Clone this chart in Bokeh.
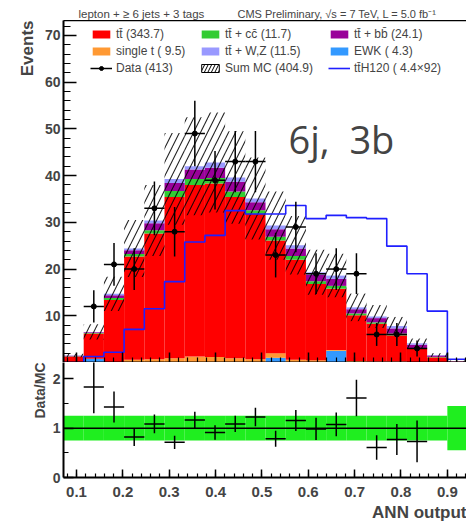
import numpy as np
from bokeh.plotting import figure
from bokeh.layouts import column
from bokeh.models import (Range1d, FixedTicker, LinearAxis, Label, Legend,
                          LegendItem, Span, ColumnDataSource, Title)
from bokeh.embed import file_html
from bokeh.resources import INLINE

# ---------------- data ----------------
x_lo, bin_w, n_bins = 0.072, 0.04358, 20
data_counts = [0, 12, 21, 20, 33, 28, 49, 39, 43, 43, 23, 29, 19, 20, 19, 6, 6, 3, 0, 0]
ewk      = [0, 0.8, 0, 0, 0, 0, 0, 0, 0, 0, 1.0, 0, 0, 2.5, 0, 0, 0, 0, 0, 0]
single_t = [0, 0, 0.1, 0.6, 0.7, 0.9, 1.3, 1.2, 0.9, 0.7, 1.0, 0.6, 0.5, 0.2, 0.3, 0.2, 0.2, 0.1, 0, 0]
ttbar    = [1.3, 5.4, 13.3, 22.1, 26.9, 34.5, 36.7, 37.1, 34.5, 31.1, 24.1, 21.4, 16.3, 13.1, 9.8, 8.1, 5.6, 2.8, 1.1, 0.2]
ttcc     = [0.05, 0.1, 0.4, 0.5, 0.7, 1.3, 1.3, 1.2, 1.2, 0.8, 0.8, 0.8, 0.6, 0.6, 0.4, 0.3, 0.4, 0.2, 0.1, 0.0]
ttbb     = [0.1, 0.15, 0.6, 0.8, 1.5, 1.7, 2.0, 2.2, 2.1, 1.7, 1.6, 1.6, 1.4, 1.5, 0.9, 0.9, 1.1, 0.7, 0.3, 0.05]
ttwz     = [0.05, 0.1, 0.3, 0.4, 0.6, 0.9, 0.7, 1.1, 0.9, 0.8, 0.8, 0.7, 0.5, 0.7, 0.4, 0.35, 0.5, 0.3, 0.1, 0.05]
tth_scaled = [0, 1.3, 2.2, 7.1, 11.5, 17.3, 25.8, 27.2, 32.5, 31.8, 31.8, 33.6, 30.8, 31.5, 31.0, 30.8, 24.9, 19.0, 11.0, 0.7]
mc_rel_unc = [0.25, 0.25, 0.25, 0.25, 0.25, 0.25, 0.25, 0.25, 0.25, 0.25,
              0.25, 0.25, 0.25, 0.25, 0.25, 0.25, 0.25, 0.25, 0.25, 0.45]

legend_labels = ["tt\u0304 (343.7)", "tt\u0304 + cc\u0304 (11.7)", "tt\u0304 + bb\u0304 (24.1)",
                 "single t ( 9.5)", "tt\u0304 + W,Z (11.5)", "EWK ( 4.3)",
                 "Data (413)", "Sum MC (404.9)", "tt\u0304H120 ( 4.4\u00d792)"]
x_ticks = [0.1, 0.2, 0.3, 0.4, 0.5, 0.6, 0.7, 0.8, 0.9]
y_ticks_top = [10, 20, 30, 40, 50, 60, 70]
y_ticks_ratio = [0, 1, 2]

# ---------------- derived ----------------
edges = x_lo + bin_w * np.arange(n_bins + 1)
left, right = edges[:-1], edges[1:]
centers = 0.5 * (left + right)
comps = [("ewk", ewk, "#3399ff"), ("st", single_t, "#ff9933"), ("tt", ttbar, "#ff0000"),
         ("cc", ttcc, "#33cc33"), ("bb", ttbb, "#990099"), ("wz", ttwz, "#9999ff")]
total = np.sum([np.array(c[1]) for c in comps], axis=0)
unc = np.array(mc_rel_unc)
d = np.array(data_counts, dtype=float)

FONT = "Liberation Sans"
XR = Range1d(0.072, 0.9413)

# ---------------- header strip (x in page pixels) ----------------
p0 = figure(width=466, height=20, x_range=Range1d(63, 466), y_range=Range1d(20, 0),
            output_backend="svg", toolbar_location=None, min_border=0, min_border_left=63)
p0.axis.visible = False
p0.grid.visible = False
p0.outline_line_color = None
p0.add_layout(Label(x=78, y=13, text="lepton + \u2265 6 jets + 3 tags", text_font=FONT,
                    text_font_size="11.5px", text_baseline="middle", text_align="left"))
p0.add_layout(Label(x=237, y=13, text="CMS Preliminary, \u221As = 7 TeV, L = 5.0 fb\u207B\u00B9",
                    text_font=FONT, text_font_size="11px", text_baseline="middle", text_align="left"))

# ---------------- upper panel ----------------
p1 = figure(width=466, height=342, x_range=XR, y_range=Range1d(0, 73.2),
            output_backend="svg", toolbar_location=None,
            min_border_left=63, min_border_right=0, min_border_top=0, min_border_bottom=0)
p1.outline_line_color = None
p1.grid.visible = False

renderers = {}
base = np.zeros(n_bins)
for key, vals, col in comps:
    top = base + np.array(vals)
    renderers[key] = p1.quad(left=left, right=right, bottom=base, top=top,
                             fill_color=col, line_color=None)
    base = top

band = p1.quad(left=left, right=right, bottom=total * (1 - unc), top=total * (1 + unc),
               fill_alpha=0, line_color=None, hatch_pattern="/", hatch_color="black",
               hatch_scale=14, hatch_weight=1.1, hatch_alpha=0.85)
# legend proxy for the hatched band (zero-size box at the range start)
band_leg = p1.quad(left=[x_lo], right=[x_lo], bottom=[0], top=[0], fill_alpha=0,
                   line_color="black", line_width=1, hatch_pattern="/", hatch_color="black",
                   hatch_scale=7, hatch_weight=1)

sx, sy = [], []
for i in range(n_bins):
    sx += [left[i], right[i]]
    sy += [tth_scaled[i], tth_scaled[i]]
tth_r = p1.line(sx, sy, line_color="#1f1fff", line_width=1.6)

m = d > 0
err = np.sqrt(d[m])
dat_src = ColumnDataSource(dict(x=centers[m], y=d[m], lo=d[m] - err, hi=d[m] + err,
                                l=left[m], r=right[m]))
v1 = p1.segment(x0="x", y0="lo", x1="x", y1="hi", source=dat_src, line_color="black", line_width=1.5)
h1 = p1.segment(x0="l", y0="y", x1="r", y1="y", source=dat_src, line_color="black", line_width=1.5)
c1 = p1.scatter(x="x", y="y", source=dat_src, size=5, color="black")

cols = [
    [(legend_labels[0], [renderers["tt"]]), (legend_labels[3], [renderers["st"]]),
     (legend_labels[6], [h1, c1])],
    [(legend_labels[1], [renderers["cc"]]), (legend_labels[4], [renderers["wz"]]),
     (legend_labels[7], [band_leg])],
    [(legend_labels[2], [renderers["bb"]]), (legend_labels[5], [renderers["ewk"]]),
     (legend_labels[8], [tth_r])],
]
col_x = [27, 136, 265]
for cx, entries in zip(col_x, cols):
    leg = Legend(items=[LegendItem(label=t, renderers=r) for t, r in entries],
                 location=(cx, 287), glyph_width=22, glyph_height=10, label_height=12,
                 label_standoff=4, spacing=3, padding=0, margin=0, label_text_font=FONT,
                 label_text_font_size="12px", background_fill_alpha=0, border_line_alpha=0)
    p1.add_layout(leg)

# axes
ya = p1.yaxis[0]
ya.ticker = FixedTicker(ticks=y_ticks_top, minor_ticks=list(range(2, 73, 2)))
xa = p1.xaxis[0]
xa.ticker = FixedTicker(ticks=x_ticks, minor_ticks=list(np.round(np.arange(0.08, 0.95, 0.02), 2)))
xa.major_label_overrides = {t: "" for t in x_ticks}
xa.major_label_text_font_size = "1px"
xa.major_label_standoff = 0
for ax in (ya, xa):
    ax.axis_line_width = 2
    ax.major_tick_line_width = 1.5
    ax.minor_tick_line_width = 1.2
    ax.major_tick_out = 0
    ax.minor_tick_out = 0
    ax.major_label_text_font = FONT
    ax.major_label_text_font_style = "bold"
ya.major_tick_in = 13
ya.minor_tick_in = 7
ya.major_label_text_font_size = "14px"
ya.major_label_standoff = 3
xa.major_tick_in = 10
xa.minor_tick_in = 5

top_axis = LinearAxis(ticker=FixedTicker(ticks=[]), major_tick_in=0, major_tick_out=0,
                      minor_tick_in=0, minor_tick_out=0, major_label_text_font_size="1px",
                      major_label_standoff=0, axis_line_width=1.5)
p1.add_layout(top_axis, "above")

p1.add_layout(Label(x=0.5573, y=47.9, text="6j, \u00a03b", text_font="Open Sans",
                    text_font_size="38px", text_baseline="alphabetic", text_align="left"))
p1.add_layout(Title(text="Events", align="right", text_font=FONT, text_font_style="bold",
                    text_font_size="17px", standoff=9), "left")

# ---------------- ratio panel ----------------
p2 = figure(width=466, height=161, x_range=XR, y_range=Range1d(0, 2.33),
            output_backend="svg", toolbar_location=None,
            min_border_left=63, min_border_right=0, min_border_top=0, min_border_bottom=46)
p2.outline_line_color = None
p2.grid.visible = False

p2.quad(left=left, right=right, bottom=1 - unc, top=1 + unc, fill_color="#1fee1f", line_color=None)
p2.add_layout(Span(location=1, dimension="width", line_color="black", line_width=1.5))
r = d[m] / total[m]
rerr = np.sqrt(d[m]) / total[m]
rat_src = ColumnDataSource(dict(x=centers[m], y=r, lo=r - rerr, hi=r + rerr, l=left[m], r=right[m]))
p2.segment(x0="x", y0="lo", x1="x", y1="hi", source=rat_src, line_color="black", line_width=1.5)
p2.segment(x0="l", y0="y", x1="r", y1="y", source=rat_src, line_color="black", line_width=1.5)

ya2 = p2.yaxis[0]
ya2.ticker = FixedTicker(ticks=y_ticks_ratio, minor_ticks=[0.5, 1.5])
xa2 = p2.xaxis[0]
xa2.ticker = FixedTicker(ticks=x_ticks, minor_ticks=list(np.round(np.arange(0.08, 0.95, 0.02), 2)))
for ax in (ya2, xa2):
    ax.axis_line_width = 2
    ax.major_tick_line_width = 1.5
    ax.minor_tick_line_width = 1.2
    ax.major_tick_out = 0
    ax.minor_tick_out = 0
    ax.major_label_text_font = FONT
    ax.major_label_text_font_style = "bold"
ya2.major_tick_in = 10
ya2.minor_tick_in = 5
ya2.major_label_text_font_size = "14px"
ya2.major_label_standoff = 3
xa2.major_tick_in = 8
xa2.minor_tick_in = 4
xa2.major_label_text_font_size = "15px"
xa2.major_label_standoff = 9

p2.add_layout(Title(text="Data/MC", align="right", text_font=FONT, text_font_style="bold",
                    text_font_size="14px", standoff=4), "left")
p2.add_layout(Title(text="ANN output", align="right", text_font=FONT, text_font_style="bold",
                    text_font_size="17px", standoff=3), "below")

layout = column(p0, p1, p2, spacing=0)
open("out.html", "w").write(file_html(layout, INLINE))
